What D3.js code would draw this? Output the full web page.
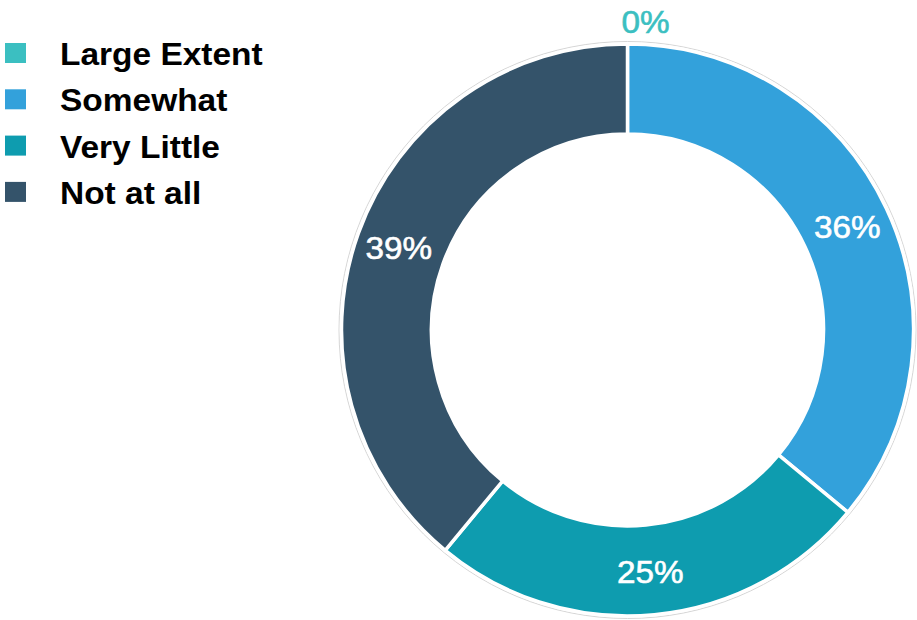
<!DOCTYPE html>
<html><head><meta charset="utf-8">
<script src="https://cdn.jsdelivr.net/npm/d3@7"></script>
<style>html,body{margin:0;padding:0;background:#fff;}svg{display:block;}</style>
</head><body>
<svg id="chart" width="917" height="620"></svg>
<script>
const categories = ["Large Extent", "Somewhat", "Very Little", "Not at all"];
const values = [0, 36, 25, 39];
const colors = ["#3bbfc1", "#33a1db", "#0e9caf", "#34536a"];

const W = 917, H = 620;
const cx = 627.5, cy = 330;
const outerR = 286, innerR = 196;
const svg = d3.select("#chart");

const data = categories.map((c, i) => ({ cat: c, value: values[i], color: colors[i] }));
const pie = d3.pie().sort(null).value(d => d.value);
const arcs = pie(data);
const arc = d3.arc().innerRadius(innerR).outerRadius(outerR);

const g = svg.append("g").attr("transform", `translate(${cx},${cy})`);

g.append("circle").attr("r", outerR + 2.5).attr("fill", "none")
  .attr("stroke", "#d6d6d6").attr("stroke-width", 1);

g.selectAll("path.slice").data(arcs).enter().append("path")
  .attr("class", "slice")
  .attr("d", arc)
  .attr("fill", d => d.data.color)
  .attr("stroke", "#fff").attr("stroke-width", 3.5)
  .attr("stroke-linejoin", "miter");

const midR = (innerR + outerR) / 2 + 2;
const labelArc = d3.arc().innerRadius(midR).outerRadius(midR);
const outArc = d3.arc().innerRadius(outerR + 22).outerRadius(outerR + 22);
const total = d3.sum(values);

g.selectAll("text.lbl").data(arcs).enter().append("text")
  .attr("class", "lbl")
  .attr("transform", d => {
    const p = d.data.value === 0 ? outArc.centroid(d) : labelArc.centroid(d);
    return `translate(${p[0] + (d.data.value === 0 ? 18 : 0)},${p[1]}) scale(1.04,1)`;
  })
  .attr("text-anchor", "middle")
  .attr("dominant-baseline", "central")
  .attr("font-family", "'Liberation Sans', Arial, sans-serif")
  .attr("font-size", 32)
  .attr("fill", d => d.data.value === 0 ? d.data.color : "#fff")
  .attr("stroke", d => d.data.value === 0 ? d.data.color : "#fff")
  .attr("stroke-width", 0.6)
  .text(d => Math.round(d.data.value / total * 100) + "%");

const legend = svg.append("g").attr("transform", "translate(5,43)");
const rowH = 46.3;
const items = legend.selectAll("g.item").data(data).enter().append("g")
  .attr("class", "item")
  .attr("transform", (d, i) => `translate(0,${i * rowH})`);
items.append("rect").attr("width", 21).attr("height", 20).attr("fill", d => d.color);
items.append("text")
  .attr("transform", "translate(55,22) scale(1.08,1)")
  .attr("font-family", "'Liberation Sans', Arial, sans-serif")
  .attr("font-weight", "bold").attr("font-size", 31)
  .attr("fill", "#000")
  .text(d => d.cat);
</script>
</body></html>
